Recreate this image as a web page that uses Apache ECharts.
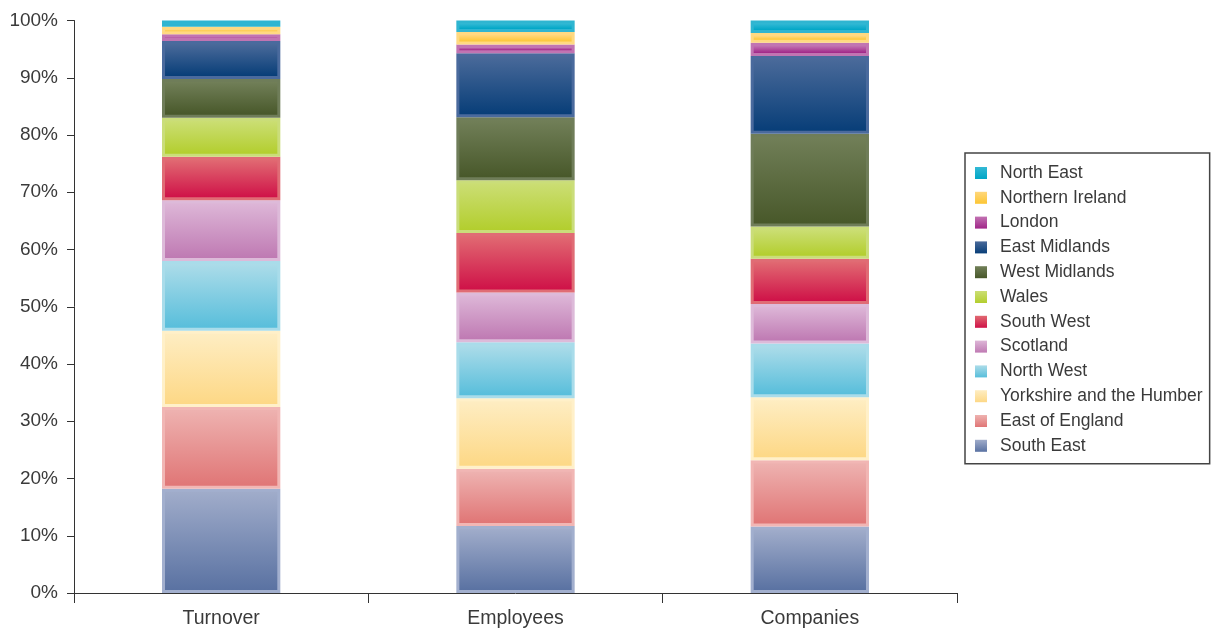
<!DOCTYPE html>
<html>
<head>
<meta charset="utf-8">
<title>Regional breakdown</title>
<script src="https://cdn.jsdelivr.net/npm/echarts@6/dist/echarts.min.js"></script>
<style>
  html, body { margin: 0; padding: 0; background: #ffffff; }
  #chart { width: 1211px; height: 631px; }
</style>
</head>
<body>
<div id="chart"></div>
<script>
// Categories on the x axis
const categories = ['Turnover', 'Employees', 'Companies'];

// Regions in stacking order (bottom to top)
const regions = [
  'South East', 'East of England', 'Yorkshire and the Humber', 'North West',
  'Scotland', 'South West', 'Wales', 'West Midlands', 'East Midlands',
  'London', 'Northern Ireland', 'North East'
];

// Share of each measure by region, in percent (Turnover, Employees, Companies)
const southEast       = [18.2, 11.7, 11.6];
const eastOfEngland   = [14.3, 10.0, 11.6];
const yorkshire       = [13.3, 12.3, 11.0];
const northWest       = [12.2,  9.8,  9.4];
const scotland        = [10.6,  8.7,  6.9];
const southWest       = [ 7.6, 10.4,  7.9];
const wales           = [ 6.8,  9.2,  5.6];
const westMidlands    = [ 6.8, 11.0, 16.2];
const eastMidlands    = [ 6.6, 11.2, 13.6];
const london          = [ 1.2,  1.5,  2.3];
const northernIreland = [ 1.3,  2.2,  1.7];
const northEast       = [ 1.1,  2.0,  2.2];

const values = [southEast, eastOfEngland, yorkshire, northWest, scotland, southWest,
  wales, westMidlands, eastMidlands, london, northernIreland, northEast];

// Y axis tick labels
const yTicks = [0, 10, 20, 30, 40, 50, 60, 70, 80, 90, 100];

// Colour per region: frame colour, gradient top, gradient bottom
const palette = [
  ['#a2afce', '#a0acca', '#5a72a2'],
  ['#f1b6b4', '#eeb2b0', '#e07676'],
  ['#fff0c9', '#feedc2', '#fdd886'],
  ['#a9dcea', '#acdce9', '#58bedb'],
  ['#ddbad9', '#ddb6d7', '#bf7ab3'],
  ['#e06c75', '#e16a72', '#cf1248'],
  ['#cadd7a', '#cbde74', '#b3ce2e'],
  ['#6f7d59', '#717f58', '#48582a'],
  ['#4a6a9d', '#4a6a9a', '#083e78'],
  ['#c174b2', '#c272b2', '#a02688'],
  ['#ffd982', '#ffd77c', '#fcc634'],
  ['#2fb5d1', '#33b9d5', '#00a6c6']
];

function grad(top, bottom) {
  return { type: 'linear', x: 0, y: 0, x2: 0, y2: 1,
    colorStops: [{ offset: 0, color: top }, { offset: 1, color: bottom }] };
}

// Running totals so each region sits on top of the ones below it
const base = categories.map(() => 0);
const series = regions.map((name, r) => {
  const data = categories.map((c, i) => {
    const lo = base[i];
    const hi = lo + values[r][i];
    base[i] = hi;
    return [i, lo, hi];
  });
  const col = palette[r];
  return {
    name: name,
    type: 'custom',
    itemStyle: { color: col[2] },
    encode: { x: 0, y: [1, 2] },
    data: data,
    renderItem: function (params, api) {
      const cat = api.value(0);
      const p0 = api.coord([cat, api.value(1)]);
      const p1 = api.coord([cat, api.value(2)]);
      const bw = api.size([1, 0])[0] * 0.402;
      const x = p0[0] - bw / 2;
      const y = p1[1];
      const h = p0[1] - p1[1];
      const f = 3;
      return {
        type: 'group',
        children: [
          { type: 'rect', shape: { x: x, y: y, width: bw, height: h },
            style: { fill: col[0] } },
          { type: 'rect', shape: { x: x + f, y: y + f, width: bw - 2 * f, height: Math.max(h - 2 * f, 0) },
            style: { fill: grad(col[1], col[2]) } }
        ]
      };
    }
  };
});

const legendData = regions.map((name, r) => ({
  name: name,
  itemStyle: { color: grad(palette[r][1], palette[r][2]) }
})).reverse();

const font = 'Liberation Sans';
const chart = echarts.init(document.getElementById('chart'), null, { renderer: 'canvas' });
chart.setOption({
  animation: false,
  backgroundColor: '#ffffff',
  grid: { left: 74, right: 254, top: 20.5, bottom: 38, containLabel: false },
  legend: {
    orient: 'vertical',
    left: 965,
    top: 153,
    data: legendData,
    icon: 'rect',
    itemWidth: 12,
    itemHeight: 12,
    itemGap: 6.8,
    padding: [11, 7, 9, 10],
    borderColor: '#444444',
    borderWidth: 1.5,
    borderRadius: 0,
    selectedMode: false,
    textStyle: { fontFamily: font, fontSize: 17.5, color: '#3a3a3a', lineHeight: 17.5, padding: [0, 0, 0, 8] }
  },
  xAxis: {
    type: 'category',
    data: categories,
    boundaryGap: true,
    axisLine: { lineStyle: { color: '#333333', width: 1 } },
    axisTick: { show: true, alignWithLabel: false, length: 10, lineStyle: { color: '#333333' } },
    axisLabel: { fontFamily: font, fontSize: 19.5, color: '#3a3a3a', margin: 16 },
    splitLine: { show: false }
  },
  yAxis: {
    type: 'value',
    min: yTicks[0],
    max: yTicks[yTicks.length - 1],
    interval: yTicks[1] - yTicks[0],
    axisLine: { show: true, lineStyle: { color: '#333333', width: 1 } },
    axisTick: { show: true, length: 7, lineStyle: { color: '#333333' } },
    axisLabel: { fontFamily: font, fontSize: 19, color: '#3a3a3a', margin: 16, formatter: '{value}%' },
    splitLine: { show: false }
  },
  series: series
});
</script>
</body>
</html>
